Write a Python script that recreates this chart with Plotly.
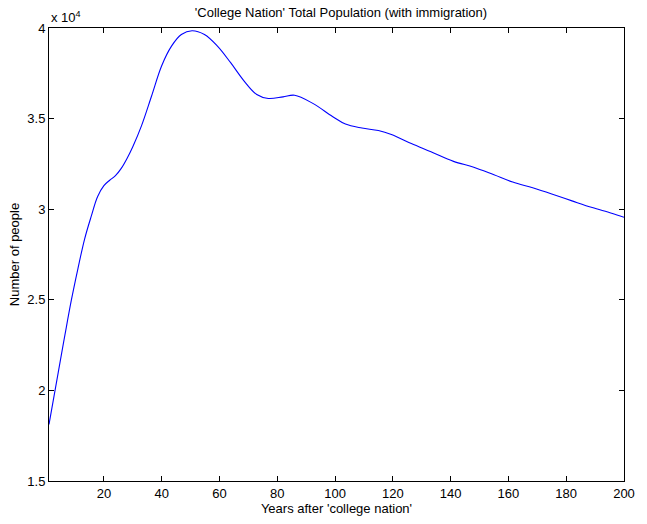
import plotly.graph_objects as go

# Total population of 'College Nation' over time, immigration included
years = [1, 4.2, 6.5, 8.7, 11, 13.3, 15.6, 17.8, 20, 22, 24, 26, 28, 30, 33,
         36.5, 40, 43.4, 46.8, 50.5, 54.8, 59.3, 63.8, 68.4, 72.9, 76.9, 82, 86,
         92.3, 99.1, 103.6, 109.3, 115, 119.5, 126.4, 133.2, 141, 148, 155, 161.5,
         168.4, 175, 182, 189, 195.7, 200]
population = [18120, 21000, 23050, 24950, 26710, 28340, 29600, 30690, 31300,
              31600, 31850, 32250, 32800, 33450, 34600, 36250, 37920, 39000, 39640,
              39850, 39640, 39000, 38100, 37100, 36330, 36110, 36200, 36290, 35840,
              35120, 34700, 34480, 34340, 34120, 33620, 33170, 32640, 32320, 31900,
              31500, 31180, 30840, 30460, 30090, 29780, 29550]

x_ticks = [20, 40, 60, 80, 100, 120, 140, 160, 180, 200]
y_ticks = [15000, 20000, 25000, 30000, 35000, 40000]
y_tick_labels = ["1.5", "2", "2.5", "3", "3.5", "4"]

FONT = "Liberation Sans, Arial, Helvetica, sans-serif"
FS = 13

fig = go.Figure()
fig.add_trace(go.Scatter(
    x=years, y=population, mode="lines",
    line=dict(color="rgb(0,0,255)", width=1.1, shape="spline", smoothing=1.0),
    showlegend=False, hoverinfo="x+y",
))

axis_common = dict(
    showgrid=False, zeroline=False, showline=True, linecolor="black",
    linewidth=1, mirror="ticks", ticks="inside", ticklen=5, tickcolor="black",
    tickfont=dict(family=FONT, size=FS, color="black"),
)

fig.update_layout(
    width=647, height=524, autosize=False,
    paper_bgcolor="white", plot_bgcolor="white",
    margin=dict(l=49, r=14, t=28, b=35),
    font=dict(family=FONT, size=FS, color="black"),
    title=dict(text="'College Nation' Total Population (with immigration)",
               x=(49 + 633) / 2 / 647, xanchor="center", y=1 - 12 / 524,
               yanchor="middle", font=dict(family=FONT, size=FS, color="black")),
    xaxis=dict(range=[1, 200], tickvals=x_ticks,
               title=dict(text="Years after 'college nation'", standoff=2,
                          font=dict(family=FONT, size=FS)),
               **axis_common),
    yaxis=dict(range=[15000, 40000], tickvals=y_ticks, ticktext=y_tick_labels,
               title=dict(text="Number of people", standoff=4,
                          font=dict(family=FONT, size=FS)),
               **axis_common),
    annotations=[dict(text="x 10<sup>4</sup>", xref="paper", yref="paper",
                      x=0, y=1, xanchor="left", yanchor="bottom", yshift=1,
                      showarrow=False, font=dict(family=FONT, size=FS, color="black"))],
)

fig.write_html("out.html")
